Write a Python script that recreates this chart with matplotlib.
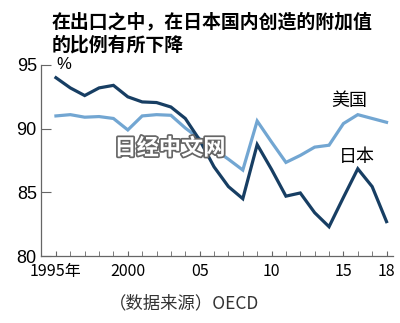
import matplotlib
matplotlib.use("Agg")
import matplotlib.pyplot as plt
import matplotlib.patheffects as pe

plt.rcParams['font.family'] = ['Noto Sans CJK SC', 'DejaVu Sans']

years = list(range(1995, 2019))
japan = [94.0, 93.2, 92.6, 93.2, 93.4, 92.5, 92.1, 92.05, 91.7, 90.8,
         89.1, 87.0, 85.45, 84.5, 88.75, 86.8, 84.7, 84.95, 83.4, 82.3,
         84.6, 86.85, 85.45, 82.7]
usa = [91.0, 91.1, 90.9, 90.95, 90.8, 89.9, 91.0, 91.1, 91.05, 90.05,
       89.2, 88.4, 87.6, 86.75, 90.6, 88.95, 87.35, 87.9, 88.55, 88.7,
       90.4, 91.1, 90.8, 90.5]

xticks = [1995, 2000, 2005, 2010, 2015, 2018]
xlabels = ['1995年', '2000', '05', '10', '15', '18']
yticks = [80, 85, 90, 95]

num_font = ['Liberation Sans Narrow', 'Liberation Sans', 'DejaVu Sans']

fig = plt.figure(figsize=(4.0, 3.23), dpi=100)
ax = fig.add_axes([0.1025, 0.2074, 0.88, 0.5914])

ax.plot(years, usa, color='#72a6d2', lw=2.3, solid_joinstyle='miter', zorder=3)
ax.plot(years, japan, color='#173e63', lw=2.3, solid_joinstyle='miter', zorder=4)

ax.set_xlim(1993.96, 2018.45)
ax.set_ylim(80, 95)

for s in ['top', 'right']:
    ax.spines[s].set_visible(False)
for s in ['left', 'bottom']:
    ax.spines[s].set_color('#666666')
    ax.spines[s].set_linewidth(0.9)

ax.set_xticks(years, minor=True)
ax.set_xticks(xticks)
ax.set_xticklabels(xlabels, fontsize=11.5, family=['Liberation Sans Narrow', 'Noto Sans CJK SC'])
ax.tick_params(axis='x', which='both', direction='in', length=3.5, color='#666666', pad=5)
ax.set_yticks(yticks)
ax.set_yticklabels([str(v) for v in yticks], fontsize=13, family=num_font)
ax.tick_params(axis='y', direction='in', length=7, color='#666666', pad=3)

ax.text(1995.05, 95, '%', fontsize=12, family=num_font, va='center', ha='left')
ax.text(2014.15, 92.2, '美国', fontsize=13, va='center', ha='left')
ax.text(2014.7, 87.8, '日本', fontsize=13, va='center', ha='left')

# watermark
fig.text(0.425, 0.541, '日经中文网', fontsize=16, fontweight='bold', color='white',
         ha='center', va='center', zorder=10,
         path_effects=[pe.withStroke(linewidth=2.5, foreground='#666666')])

fig.text(0.128, 0.934, '在出口之中，在日本国内创造的附加值', fontsize=13.6,
         fontweight='bold', ha='left', va='center')
fig.text(0.128, 0.860, '的比例有所下降', fontsize=13.6,
         fontweight='bold', ha='left', va='center')

fig.text(0.272, 0.062, '（数据来源）OECD', fontsize=12.5, color='#333333',
         ha='left', va='center')

fig.savefig('out.png', dpi=100)
